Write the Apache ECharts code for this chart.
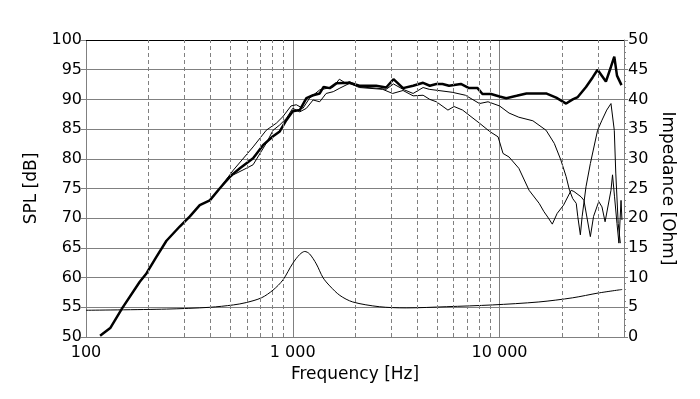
<!DOCTYPE html>
<html>
<head>
<meta charset="utf-8">
<script src="https://cdn.jsdelivr.net/npm/echarts@6/dist/echarts.min.js"></script>
<style>
    html, body { margin: 0; padding: 0; background: #fff; }
    #spl-chart { width: 700px; height: 399px; }
</style>
</head>
<body>
<div id="spl-chart"></div>
<script>
// ------------------- //
// Data
// ------------------- //

// On-axis SPL (thick line)
const onAxisFreq = [117, 131, 150, 182, 196, 219, 245, 284, 318, 355, 397, 443, 496, 555, 643, 718, 803, 865, 931, 1000, 1081, 1164, 1254, 1350, 1410, 1510, 1625, 1880, 2100, 2530, 2830, 3070, 3415, 3820, 4270, 4600, 4950, 5300, 5700, 6500, 7120, 7830, 8270, 9100, 10000, 10780, 12100, 13500, 16800, 18800, 21000, 22600, 23900, 26200, 28200, 29800, 32700, 34600, 35900, 37000, 38900];
const onAxisSpl = [50.2, 51.5, 54.9, 59.3, 60.7, 63.5, 66.2, 68.6, 70.3, 72.2, 73, 75, 77, 78.4, 80.1, 82.3, 83.8, 84.6, 86.5, 88, 88.2, 90.2, 90.7, 91, 92.1, 91.9, 92.7, 92.8, 92.3, 92.3, 92, 93.4, 91.9, 92.3, 92.8, 92.3, 92.6, 92.6, 92.3, 92.6, 91.9, 91.9, 90.9, 90.9, 90.5, 90.2, 90.6, 91, 91, 90.3, 89.3, 90, 90.4, 92.1, 93.7, 95, 93, 95.5, 97.2, 94, 92.4];

// First off-axis SPL (thin line)
const offAxisAFreq = [443, 516, 643, 744, 833, 896, 981, 1040, 1120, 1205, 1350, 1570, 1680, 1810, 1880, 2100, 2530, 2830, 3070, 3415, 3820, 4270, 4570, 5900, 6840, 8000, 8800, 10000, 11120, 12400, 14500, 16800, 18400, 19800, 21000, 21800, 22600, 23500, 23900, 24600, 25100, 26200, 27500, 29800, 31300, 33000, 34600, 35900, 36500, 37500, 38400];
const offAxisASpl = [75, 78.1, 82, 84.8, 86, 87.1, 88.9, 89.1, 88.5, 90.2, 91.6, 92.1, 93.4, 92.7, 93, 92.1, 91.9, 91.7, 92.6, 91.7, 91, 92, 91.7, 91.2, 90.7, 89.3, 89.6, 88.9, 87.7, 87, 86.4, 84.8, 82.6, 79.8, 77, 74.7, 73.3, 72.5, 70.3, 67.2, 70.3, 75.3, 79.2, 84.8, 86.5, 88.2, 89.3, 84.8, 77.6, 69.1, 65.8];

// Second off-axis SPL (thin line)
const offAxisBFreq = [443, 516, 596, 643, 744, 803, 865, 931, 1000, 1081, 1164, 1254, 1350, 1450, 1570, 1690, 1880, 2100, 2720, 3040, 3415, 3820, 4270, 4600, 4950, 5630, 6030, 6630, 7280, 8000, 8960, 9840, 10400, 11120, 12400, 13900, 15550, 16400, 17100, 18000, 19000, 20400, 22200, 22900, 24800, 25600, 27500, 28500, 30200, 31300, 32400, 34600, 35200, 36000, 37000, 37800, 38700, 39100];
const offAxisBSpl = [75, 77.3, 78.4, 79, 82.6, 84.8, 85.7, 86.8, 88.5, 87.9, 88.5, 89.9, 89.6, 91, 91.3, 91.9, 92.7, 92, 91.7, 91, 91.5, 90.6, 90.7, 90, 89.6, 88.2, 88.8, 88.2, 87.1, 86, 84.6, 83.7, 80.9, 80.3, 78.4, 74.7, 72.5, 71.1, 70.2, 69, 70.8, 72.2, 74.7, 74.5, 73.6, 73, 66.9, 70.3, 72.8, 71.9, 69.4, 74.7, 77.3, 73.6, 69.1, 65.8, 73, 69.7];

// Impedance (right axis)
const impFreq = [100, 245, 397, 516, 596, 706, 803, 896, 1000, 1081, 1143, 1205, 1300, 1400, 1510, 1690, 1950, 2620, 3540, 5530, 9250, 15500, 22600, 30000, 39200];
const impOhm = [4.5, 4.7, 5.0, 5.4, 5.8, 6.6, 7.9, 9.6, 12.4, 13.9, 14.4, 14.0, 12.3, 10.0, 8.6, 7.0, 5.9, 5.1, 4.9, 5.1, 5.4, 5.9, 6.6, 7.4, 8.0];

// Dashed minor frequency grid lines
const minorFreqs = [200, 300, 400, 500, 600, 700, 800, 900, 2000, 3000, 4000, 5000, 6000, 7000, 8000, 9000, 20000, 30000];

// Function to pair frequency and value arrays
function zip(xs, ys) {
    return xs.map((x, i) => [x, ys[i]]);
};

const fontName = "DejaVu Sans";
const gridGrey = "#808080";

const plotElement = document.getElementById("spl-chart");
const chart = echarts.init(plotElement);

let option = {
    animation: false,

    // GRID
    grid: {
        left: 86,
        right: 76,
        top: 40,
        bottom: 62,
    },

    // XAXIS
    xAxis: [
        {
            type: "log",
            logBase: 10,
            min: 100,
            max: 40000,
            interval: 1,
            name: "Frequency [Hz]",
            nameLocation: "middle",
            nameGap: 29,
            nameTextStyle: { fontFamily: fontName, fontSize: 17, color: "#000" },
            axisLine: { show: false },
            axisTick: { show: false },
            axisLabel: {
                fontFamily: fontName,
                fontSize: 16,
                color: "#000",
                margin: 8,
                showMaxLabel: false,
                formatter: v => String(Math.round(v)).replace(/\B(?=(\d{3})+(?!\d))/g, " "),
            },
            splitLine: { show: true, lineStyle: { color: gridGrey, width: 1 } },
        },
        {
            // top border
            type: "log",
            position: "top",
            min: 100,
            max: 40000,
            axisLine: { show: true, onZero: false, lineStyle: { color: "#000", width: 1 } },
            axisTick: { show: false },
            axisLabel: { show: false },
            splitLine: { show: false },
        },
    ],

    // YAXIS
    yAxis: [
        {
            type: "value",
            min: 50,
            max: 100,
            interval: 5,
            name: "SPL [dB]",
            nameLocation: "middle",
            nameGap: 44,
            nameTextStyle: { fontFamily: fontName, fontSize: 17, color: "#000" },
            axisLine: { show: false },
            axisTick: { show: true, length: 5, lineStyle: { color: gridGrey } },
            axisLabel: { fontFamily: fontName, fontSize: 16, color: "#000", margin: 4 },
            splitLine: { show: true, lineStyle: { color: gridGrey, width: 1 } },
        },
        {
            type: "value",
            position: "right",
            min: 0,
            max: 50,
            interval: 5,
            name: "Impedance [Ohm]",
            nameLocation: "middle",
            nameRotate: -90,
            nameGap: 32,
            nameTextStyle: { fontFamily: fontName, fontSize: 17, color: "#000" },
            axisLine: { show: true, lineStyle: { color: gridGrey, width: 1 } },
            axisTick: { show: true, length: 4, lineStyle: { color: gridGrey } },
            minorTick: { show: true, splitNumber: 5, length: 2, lineStyle: { color: gridGrey } },
            axisLabel: { fontFamily: fontName, fontSize: 16, color: "#000", margin: 4 },
            splitLine: { show: false },
        },
    ],

    // SERIES
    series: [
        {
            name: "grid",
            type: "line",
            data: [],
            silent: true,
            markLine: {
                silent: true,
                symbol: ["none", "none"],
                label: { show: false },
                lineStyle: { color: gridGrey, type: [4, 3], width: 1 },
                data: minorFreqs.map(f => ({ xAxis: f })),
            },
        },
        {
            name: "Impedance",
            type: "line",
            yAxisIndex: 1,
            showSymbol: false,
            smooth: 0.3,
            lineStyle: { color: "#000", width: 1 },
            data: zip(impFreq, impOhm),
        },
        {
            name: "Off-axis B",
            type: "line",
            showSymbol: false,
            lineStyle: { color: "#000", width: 1 },
            data: zip(offAxisBFreq, offAxisBSpl),
        },
        {
            name: "Off-axis A",
            type: "line",
            showSymbol: false,
            lineStyle: { color: "#000", width: 1 },
            data: zip(offAxisAFreq, offAxisASpl),
        },
        {
            name: "On-axis",
            type: "line",
            showSymbol: false,
            lineStyle: { color: "#000", width: 2.5 },
            data: zip(onAxisFreq, onAxisSpl),
        },
    ],
};

chart.setOption(option);
</script>
</body>
</html>
